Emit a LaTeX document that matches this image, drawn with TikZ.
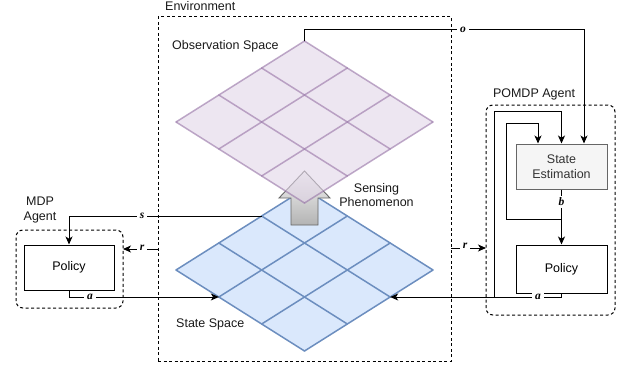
\documentclass[tikz,border=0pt]{standalone}
\usepackage{fontspec}
\setmainfont{Liberation Sans}
\newfontfamily\labfont{Liberation Serif}
\usetikzlibrary{arrows.meta,calc}
\definecolor{blueF}{HTML}{DAE8FC}
\definecolor{blueD}{HTML}{6C8EBF}
\definecolor{purpF}{HTML}{E1D5E7}
\definecolor{purpD}{HTML}{9673A6}
\definecolor{grayD}{HTML}{666666}
\definecolor{grayF}{HTML}{F5F5F5}
\definecolor{shadeB}{HTML}{B3B3B3}
\definecolor{txtG}{HTML}{333333}
\begin{document}
\begin{tikzpicture}[x=1pt,y=-1pt,
  font=\fontsize{12.5}{14.5}\selectfont,
  conn/.style={draw=black, line width=1pt, -{Stealth[length=8pt,width=7pt,inset=2.2pt]}},
  lab/.style={fill=white, inner xsep=3pt, inner ysep=1.5pt, font=\labfont\bfseries\itshape\fontsize{11.5}{13}\selectfont},
  txt/.style={inner sep=0pt, text=black!90},
  box/.style={draw=black, line width=1pt, minimum width=90pt, minimum height=45pt, align=center, inner sep=0pt},
  sebox/.style={box, draw=grayD, fill=grayF, text=txtG},
  dashbox/.style={draw=black, dash pattern=on 3pt off 2.5pt, line width=1pt, inner sep=0pt},
  agentbox/.style={dashbox, rounded corners=7pt},
  grid/.style={line width=1.5pt},
]
\useasboundingbox (0,0) rectangle (621,369);

% environment
\node[dashbox, minimum width=293pt, minimum height=344pt] (env) at (304.5,189) {};
\node[txt, anchor=west] (envlab) at (165,6) {Environment};

% state space diamond
\coordinate (sT) at (304.5,189);
\coordinate (sL) at (176,270);
\coordinate (sR) at (433,270);
\coordinate (sB) at (304.5,351);
\fill[blueF] (sT) -- (sR) -- (sB) -- (sL) -- cycle;
\foreach \i in {0,1,2,3}{
  \draw[grid, draw=blueD, line cap=round] ($(sT)!\i/3!(sL)$) -- ($(sR)!\i/3!(sB)$);
  \draw[grid, draw=blueD, line cap=round] ($(sT)!\i/3!(sR)$) -- ($(sL)!\i/3!(sB)$);
}

% sensing arrow
\path[draw=grayD, line width=0.9pt, top color=grayF, bottom color=shadeB]
  (304.5,171) -- (330,198) -- (318,198) -- (318,225) -- (291,225) -- (291,198) -- (279,198) -- cycle;

% observation space diamond
\coordinate (oT) at (304.5,41);
\coordinate (oL) at (176,122);
\coordinate (oR) at (433,122);
\coordinate (oB) at (304.5,203);
\begin{scope}[opacity=0.6]
\fill[purpF] (oT) -- (oR) -- (oB) -- (oL) -- cycle;
\foreach \i in {0,1,2,3}{
  \draw[grid, draw=purpD, line cap=round] ($(oT)!\i/3!(oL)$) -- ($(oR)!\i/3!(oB)$);
  \draw[grid, draw=purpD, line cap=round] ($(oT)!\i/3!(oR)$) -- ($(oL)!\i/3!(oB)$);
}
\end{scope}

\node[txt, anchor=west] (obslab) at (172,46) {Observation Space};
\node[txt, anchor=west] (stlab) at (176,324) {State Space};
\node[txt, align=center] (senslab) at (376.5,195) {Sensing\\Phenomenon};

% MDP agent
\node[agentbox, minimum width=107pt, minimum height=78pt] (mdp) at (69.5,269) {};
\node[txt, align=center] (mdplab) at (40,210) {MDP\\Agent};
\node[box] (mpol) at (69,267.5) {Policy};

% POMDP agent
\node[agentbox, minimum width=129pt, minimum height=210pt] (pomdp) at (550.5,210) {};
\node[txt] (pomdplab) at (534,94) {POMDP Agent};
\node[sebox, minimum width=91pt, minimum height=45pt] (se) at (561.5,166.5) {State\\Estimation};
\node[box, minimum width=91pt, minimum height=48pt] (ppol) at (561.5,269) {Policy};

% connection points
\coordinate (sS) at ($(sT)!1/3!(sL)$);
\coordinate (sA1) at ($(sL)!1/3!(sB)$);
\coordinate (sA2) at ($(sR)!1/3!(sB)$);
\coordinate (rLs) at (158,249);
\coordinate (rLe) at (123,249);
\coordinate (rRs) at (451,248);
\coordinate (rRe) at (486,248);
\coordinate (oC) at (584,30);
\coordinate (brA) at (494,297);
\coordinate (brB) at (561.5,219);
\coordinate (brB1) at (506,123);

% connectors
\draw[conn] (sS) -| (mpol.north);
\draw[conn] (rLs) -- (rLe);
\draw[conn] (mpol.south) |- (sA1);
\draw[conn] (ppol.south) |- (sA2);
\draw[conn] (rRs) -- (rRe);
\draw[conn] (oT) |- (oC) -- ([xshift=22.5pt]se.north);
\draw[conn] (brA) |- ($(se.north)+(0,-32)$) -- (se.north);
\draw[conn] (se.south) -- (ppol.north);
\draw[conn] (brB) -| (brB1) -| ([xshift=-23.5pt]se.north);

% connector labels
\node[lab] (ls) at (142,216) {s};
\node[lab] (lrl) at (142,248) {r};
\node[lab] (lal) at (90,297) {a};
\node[lab] (lar) at (538,297) {a};
\node[lab] (lrr) at (465,246) {r};
\node[lab] (lo) at (463,30) {o};
\node[lab] (lb) at (561.5,202) {b};
\end{tikzpicture}
\end{document}
